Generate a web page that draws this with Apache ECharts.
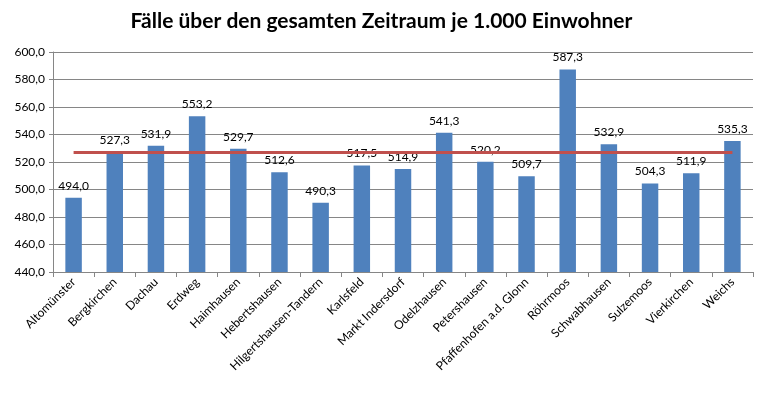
<!DOCTYPE html>
<html>
<head>
<meta charset="utf-8">
<script src="https://cdn.jsdelivr.net/npm/echarts@6/dist/echarts.min.js"></script>
<style>
  html, body { margin: 0; padding: 0; background: #fff; }
  #main { width: 763px; height: 399px; }
</style>
</head>
<body>
<div id="main"></div>
<script>
// Gemeinden
var gemeinden = ['Altomünster', 'Bergkirchen', 'Dachau', 'Erdweg', 'Haimhausen', 'Hebertshausen',
  'Hilgertshausen-Tandern', 'Karlsfeld', 'Markt Indersdorf', 'Odelzhausen', 'Petershausen',
  'Pfaffenhofen a.d. Glonn', 'Röhrmoos', 'Schwabhausen', 'Sulzemoos', 'Vierkirchen', 'Weichs'];
// Fälle je 1.000 Einwohner
var faelle = [494.0, 527.3, 531.9, 553.2, 529.7, 512.6, 490.3, 517.5, 514.9, 541.3, 520.2,
  509.7, 587.3, 532.9, 504.3, 511.9, 535.3];
// Landkreis-Durchschnitt (rote Linie)
var durchschnitt = 527.0;
var mittelwerte = gemeinden.map(function () { return durchschnitt; });

var fmt = function (v) { return v.toFixed(1).replace('.', ','); };
var schrift = 'Lato, "Open Sans", sans-serif';

var chart = echarts.init(document.getElementById('main'));
var option = {
  animation: false,
  title: {
    text: 'Fälle über den gesamten Zeitraum je 1.000 Einwohner',
    left: 'center',
    top: 6,
    textStyle: { fontFamily: schrift, fontSize: 21, fontWeight: 'bold', color: '#000' }
  },
  grid: { left: 53, right: 10, top: 52, bottom: 127 },
  xAxis: {
    type: 'category',
    data: gemeinden,
    axisLine: { lineStyle: { color: '#868686' } },
    axisTick: { show: true, alignWithLabel: false, length: 5, lineStyle: { color: '#868686' } },
    axisLabel: { rotate: 45, interval: 0, fontFamily: schrift, fontSize: 12, color: '#000', margin: 8 }
  },
  yAxis: {
    type: 'value',
    min: 440,
    max: 600,
    interval: 20,
    axisLine: { show: true, lineStyle: { color: '#868686' } },
    axisTick: { show: true, length: 4, lineStyle: { color: '#868686' } },
    splitLine: { lineStyle: { color: '#868686', width: 1 } },
    axisLabel: { fontFamily: schrift, fontSize: 12, color: '#000', margin: 8, formatter: fmt }
  },
  series: [
    {
      type: 'bar',
      data: faelle,
      barWidth: '40%',
      itemStyle: { color: '#4F81BD' },
      label: {
        show: true,
        position: 'top',
        distance: 6,
        fontFamily: schrift,
        fontSize: 12,
        color: '#000',
        formatter: function (p) { return fmt(p.value); }
      },
      z: 2
    },
    {
      type: 'line',
      data: mittelwerte,
      symbol: 'none',
      lineStyle: { color: '#C0504D', width: 3 },
      z: 3
    }
  ]
};
chart.setOption(option);
</script>
</body>
</html>
